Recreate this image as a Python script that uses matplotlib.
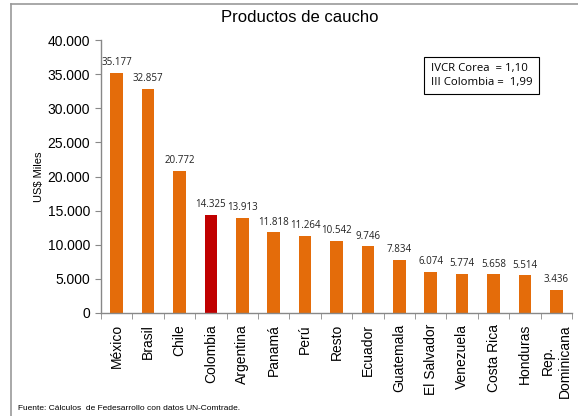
import matplotlib
matplotlib.use("Agg")
import matplotlib.pyplot as plt
from matplotlib.lines import Line2D
import numpy as np

categories = ["México", "Brasil", "Chile", "Colombia", "Argentina", "Panamá", "Perú",
              "Resto", "Ecuador", "Guatemala", "El Salvador", "Venezuela", "Costa Rica",
              "Honduras", "Rep.\nDominicana"]
values = [35177, 32857, 20772, 14325, 13913, 11818, 11264, 10542, 9746, 7834,
          6074, 5774, 5658, 5514, 3436]
value_labels = ["35.177", "32.857", "20.772", "14.325", "13.913", "11.818", "11.264",
                "10.542", "9.746", "7.834", "6.074", "5.774", "5.658", "5.514", "3.436"]
yticks = [0, 5000, 10000, 15000, 20000, 25000, 30000, 35000, 40000]
ytick_labels = ["0", "5.000", "10.000", "15.000", "20.000", "25.000", "30.000", "35.000", "40.000"]

plt.rcParams['font.family'] = ['Liberation Sans', 'DejaVu Sans']

fig = plt.figure(figsize=(5.78, 4.16), dpi=100)
ax = fig.add_axes([101/578, 1-313/416, 471/578, 273/416])

orange = "#E46C0A"
red = "#C00000"
colors = [red if c == "Colombia" else orange for c in categories]
x = np.arange(len(categories))
ax.bar(x, values, width=0.4, color=colors, zorder=2)

for xi, v, lab in zip(x, values, value_labels):
    ax.text(xi, v + 700, lab, ha="center", va="bottom", fontsize=7,
            family=["Open Sans", "DejaVu Sans"], color="#222222")

ax.set_xlim(-0.5, len(categories) - 0.5)
ax.set_ylim(0, 40000)
ax.set_yticks(yticks)
ax.set_yticklabels(ytick_labels, fontsize=10)
ax.set_xticks(x)
ax.set_xticklabels(categories, rotation=90, fontsize=10, ha="center", va="top",
                   multialignment="center")
ax.tick_params(axis="x", length=0, pad=8)
ax.set_xticks(np.arange(-0.5, len(categories), 1.0), minor=True)
ax.tick_params(axis="x", which="minor", length=4, color="#888888", direction="out")
ax.tick_params(axis="y", length=4, color="#888888", direction="out", pad=4)

for s in ["top", "right"]:
    ax.spines[s].set_visible(False)
for s in ["left", "bottom"]:
    ax.spines[s].set_color("#888888")
    ax.spines[s].set_linewidth(1.0)

ax.set_ylabel("US$ Miles", fontsize=8)
ax.yaxis.set_label_coords(-0.12, 0.5)

fig.text(300/578, 1-18/416, "Productos de caucho", ha="center", va="center", fontsize=12)

ax.text(0.70, 0.915, "IVCR Corea  = 1,10\nIII Colombia =  1,99", transform=ax.transAxes,
        fontsize=8.2, family=["Open Sans", "DejaVu Sans"], ha="left", va="top",
        linespacing=1.3,
        bbox=dict(boxstyle="square,pad=0.55", fc="white", ec="black", lw=0.8))

fig.text(18/578, 1-408/416, "Fuente: Cálculos  de Fedesarrollo con datos UN-Comtrade.",
         fontsize=6, ha="left", va="center")

fig.add_artist(Line2D([11/578, 1.0], [1-4/416, 1-4/416], color="#999999", lw=1.2,
                      transform=fig.transFigure))
fig.add_artist(Line2D([11/578, 11/578], [0, 1-4/416], color="#999999", lw=1.2,
                      transform=fig.transFigure))

fig.savefig("out.png", dpi=100)
